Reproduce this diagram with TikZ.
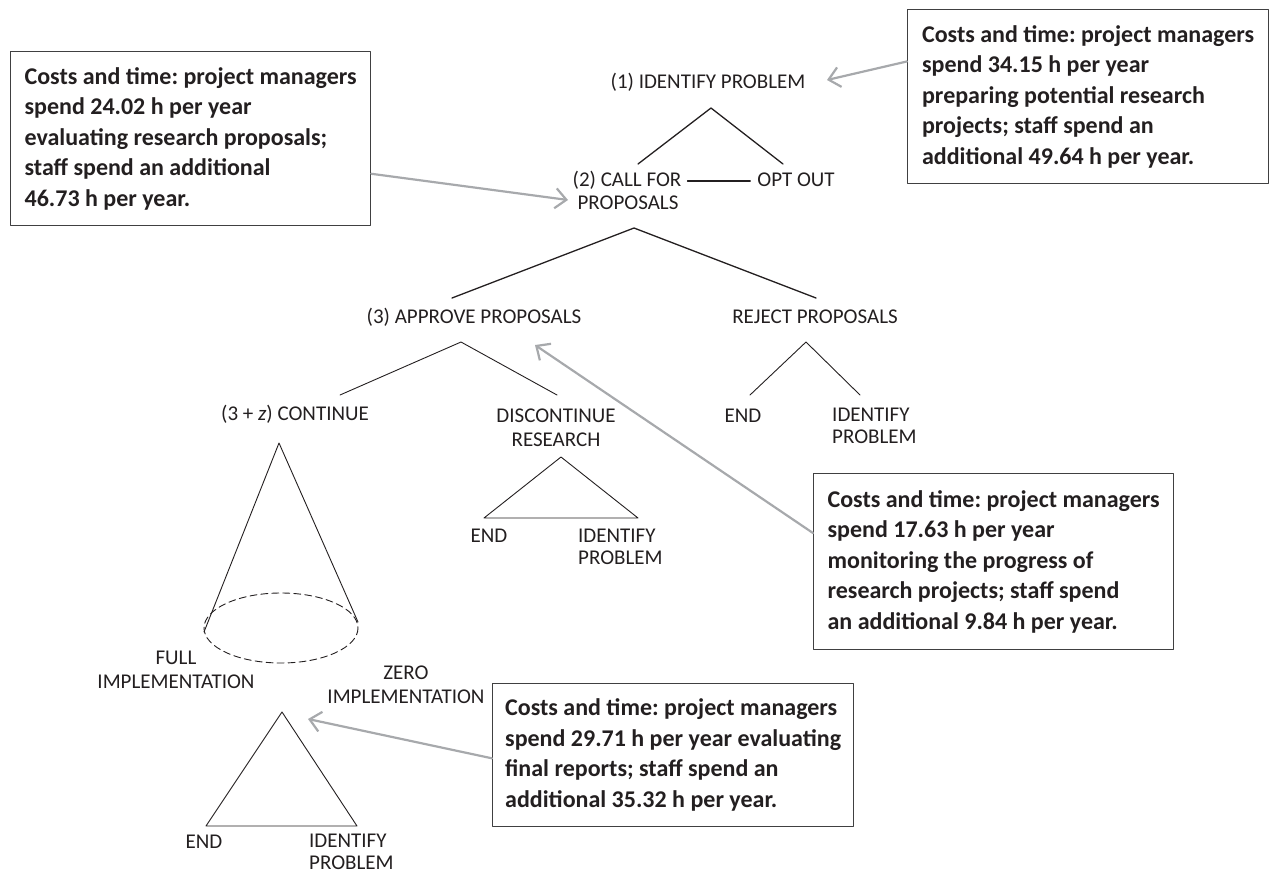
\documentclass[tikz,border=0pt]{standalone}
\usepackage{fontspec}
\setmainfont{Carlito}
\usepackage{tikz}
\usetikzlibrary{arrows.meta,positioning,calc}
\definecolor{inkgray}{HTML}{231F20}
\definecolor{arrgray}{HTML}{A7A9AC}
\definecolor{boxgray}{HTML}{404041}
\frenchspacing

\begin{document}
\begin{tikzpicture}[
			x=1pt,
			y=-1pt,
			line cap=round,
			line join=round,
			lbl/.style={inner sep=0pt,text=inkgray,text height=14pt,text depth=4pt,font=\fontsize{21}{24}\selectfont},
			lbls/.style={inner sep=0pt,text=inkgray,font=\fontsize{21}{24}\selectfont},
			idstack/.style={lbls,align=left,anchor=north west,font=\fontsize{21}{21.5}\selectfont},
			costbox/.style={draw=boxgray,line width=1.3pt,anchor=north west,align=left,inner sep=0pt,minimum width=360pt,text=inkgray,font=\fontsize{24}{30.5}\selectfont\bfseries},
			arr/.style={draw=arrgray,line width=2.2pt,-{Straight Barb[length=11pt,width=20pt]}},
			branch/.style={draw=inkgray,line width=1.3pt},
			twig/.style={draw=inkgray,line width=0.9pt}
			]
			
			\useasboundingbox (0,0) rectangle (1270,876);
			
			%------------------------------
			% Cost boxes
			%------------------------------
			\node[costbox,minimum height=174pt] (boxL) at (10,51) {Costs and time: project managers\\spend 24.02 h per year\\evaluating research proposals;\\staff spend an additional\\46.73 h per year.};
			\node[costbox,minimum width=361pt,minimum height=174pt] (boxR) at (907,9) {Costs and time: project managers\\spend 34.15 h per year\\preparing potential research\\projects; staff spend an\\additional 49.64 h per year.};
			\node[costbox,minimum height=176pt] (boxM) at (813,473) {Costs and time: project managers\\spend 17.63 h per year\\monitoring the progress of\\research projects; staff spend\\an additional 9.84 h per year.};
			\node[costbox,minimum width=361pt,minimum height=143pt] (boxB) at (492,683) {Costs and time: project managers\\spend 29.71 h per year evaluating\\final reports; staff spend an\\additional 35.32 h per year.};
			
			%------------------------------
			% Stage 1 and 2
			%------------------------------
			\node[lbl] (idp) at (708,83) {(1) IDENTIFY PROBLEM};
			\coordinate (top) at (711,108);
			\coordinate (top_l) at (638,164);
			\coordinate (top_r) at (783,164);
			\draw[branch] (top_l) -- (top) -- (top_r);
			
			\node[lbl] (call) at (627,181) {(2) CALL FOR};
			\node[lbl] (call_b) at (628,204) {PROPOSALS};
			\node[lbl] (opt) at (796,181) {OPT OUT};
			\draw[branch,shorten <=6pt,shorten >=7pt] (call.east) -- (opt.west);
			
			%------------------------------
			% Stage 3
			%------------------------------
			\coordinate (mid) at (634,228);
			\coordinate (mid_l) at (452,298);
			\coordinate (mid_r) at (816,298);
			\draw[branch] (mid_l) -- (mid) -- (mid_r);
			
			\node[lbl] (appr) at (474,318) {(3) APPROVE PROPOSALS};
			\node[lbl] (rej) at (815,318) {REJECT PROPOSALS};
			
			% approve
			\coordinate (appr_t) at (461,342);
			\coordinate (appr_l) at (340,395);
			\coordinate (appr_r) at (557,395);
			\draw[twig] (appr_l) -- (appr_t) -- (appr_r);
			
			% reject
			\coordinate (rej_t) at (806,342);
			\coordinate (rej_l) at (750,395);
			\coordinate (rej_r) at (860,395);
			\draw[twig] (rej_l) -- (rej_t) -- (rej_r);
			\node[lbl] (rej_end) at (743,417) {END};
			\node[idstack] (rej_idp) at (832,408) {IDENTIFY\\PROBLEM};
			
			%------------------------------
			% Continue / discontinue
			%------------------------------
			\node[lbl] (cont) at (295,415) {(3 + \textit{z}) CONTINUE};
			\node[lbls,align=center] (disc) at (556,428) {DISCONTINUE\\RESEARCH};
			
			\coordinate (disc_t) at (561,457);
			\coordinate (disc_l) at (484,518);
			\coordinate (disc_r) at (638,518);
			\draw[twig] (disc_t) -- (disc_l) -- (disc_r) -- cycle;
			\node[lbl] (disc_end) at (489,537) {END};
			\node[idstack] (disc_idp) at (578,529) {IDENTIFY\\PROBLEM};
			
			% cone
			\coordinate (cone_t) at (279,443);
			\coordinate (cone_l) at (204,632);
			\coordinate (cone_r) at (358,622);
			\draw[twig] (cone_l) -- (cone_t) -- (cone_r);
			\draw[twig,dash pattern=on 7pt off 4pt] (281,628) ellipse [x radius=77,y radius=35];
			\node[lbls,align=center] (full) at (176,670) {FULL\\IMPLEMENTATION};
			\node[lbls,align=center] (zero) at (406,685) {ZERO\\IMPLEMENTATION};
			
			\coordinate (zero_t) at (282,712);
			\coordinate (zero_l) at (206,826);
			\coordinate (zero_r) at (357,826);
			\draw[twig] (zero_t) -- (zero_l) -- (zero_r) -- cycle;
			\node[lbl] (zero_end) at (204,843) {END};
			\node[idstack] (zero_idp) at (309,834) {IDENTIFY\\PROBLEM};
			
			%------------------------------
			% Arrows from the boxes
			%------------------------------
			\coordinate (tipR) at (827,80);
			\coordinate (tipL) at (568,200);
			\coordinate (tipM) at (535,345);
			\coordinate (tipB) at (308,719);
			\draw[arr] (boxR.169) to (tipR);
			\draw[arr] (boxL.-11) to (tipL);
			\draw[arr] (boxM.171) to (tipM);
			\draw[arr] (boxB.181) to (tipB);
		\end{tikzpicture}
\end{document}
